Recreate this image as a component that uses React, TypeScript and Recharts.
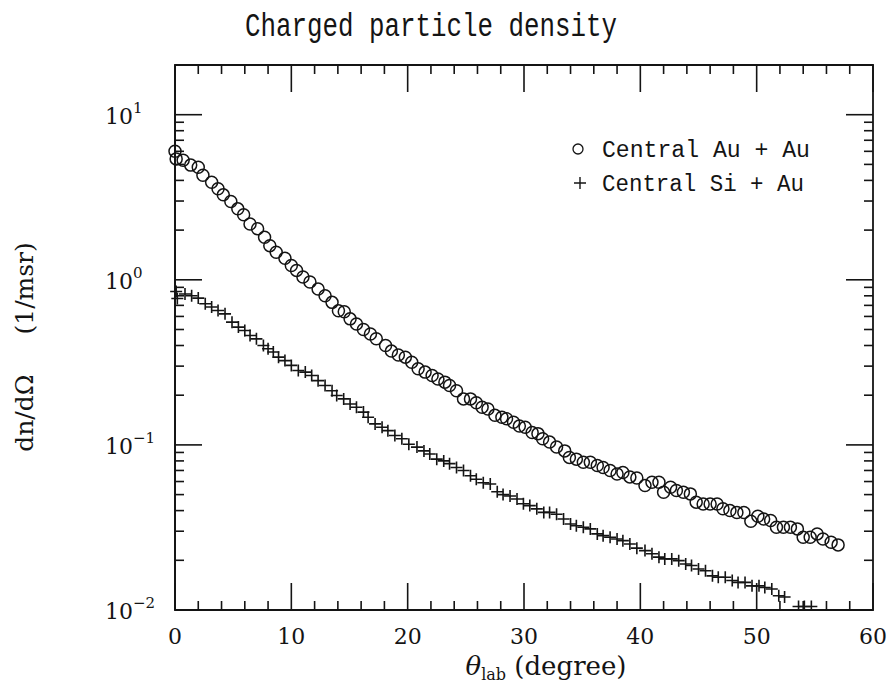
import React from 'react';
import { ReferenceArea, Label, Scatter, ScatterChart, XAxis, YAxis } from 'recharts';

// Central Au + Au (open circles): angle in degrees, density in 1/msr
const auTheta = [
  0, 0.1, 0.7, 1.35, 2.0, 2.4, 3.15, 3.7, 4.15, 4.8,
  5.4, 5.9, 6.45, 7.1, 7.7, 8.15, 8.7, 9.45, 10.0, 10.45,
  11.0, 11.6, 12.3, 12.9, 13.5, 14.05, 14.55, 15.05, 15.6, 16.2,
  16.8, 17.3, 18.1, 18.6, 19.2, 19.8, 20.35, 20.9, 21.5, 22.1,
  22.6, 23.2, 23.6, 24.2, 24.8, 25.4, 25.9, 26.4, 26.9, 27.5,
  28.1, 28.5, 29.1, 29.6, 30.1, 30.7, 31.2, 31.6, 32.2, 32.8,
  33.5, 33.9, 34.5, 35.1, 35.7, 36.3, 36.8, 37.4, 38.0, 38.5,
  39.1, 39.7, 40.4, 41.0, 41.6, 42.0, 42.6, 43.1, 43.7, 44.3,
  44.8, 45.4, 46.0, 46.6, 47.1, 47.7, 48.3, 48.9, 49.5, 50.1,
  50.6, 51.2, 51.7, 52.3, 52.9, 53.5, 54.0, 54.6, 55.2, 55.7,
  56.4, 57.0,
];
const auDensity = [
  6.0, 5.4, 5.3, 4.95, 4.8, 4.3, 3.9, 3.56, 3.27, 2.98,
  2.69, 2.48, 2.18, 2.04, 1.81, 1.61, 1.47, 1.35, 1.22, 1.14,
  1.04, 0.97, 0.88, 0.8, 0.73, 0.65, 0.64, 0.58, 0.54, 0.5,
  0.47, 0.44, 0.4, 0.37, 0.35, 0.34, 0.317, 0.289, 0.276, 0.263,
  0.251, 0.24, 0.229, 0.213, 0.19, 0.19, 0.18, 0.169, 0.165, 0.151,
  0.147, 0.144, 0.137, 0.13, 0.128, 0.119, 0.117, 0.109, 0.104, 0.097,
  0.092, 0.084, 0.082, 0.0785, 0.0785, 0.075, 0.073, 0.07, 0.0667, 0.068,
  0.064, 0.063, 0.0567, 0.0594, 0.0594, 0.0517, 0.0554, 0.0529, 0.0517, 0.0505,
  0.045, 0.0439, 0.0439, 0.0439, 0.041, 0.04, 0.039, 0.039, 0.0345, 0.037,
  0.0356, 0.0348, 0.0317, 0.0317, 0.0317, 0.031, 0.0276, 0.0276, 0.0289, 0.0269,
  0.0257, 0.0248,
];

// Central Si + Au (crosses)
const siTheta = [
  0.1, 0.2, 0.86, 1.43, 2.0, 2.6, 3.15, 3.7, 4.3, 4.9,
  5.45, 6.0, 6.45, 7.0, 7.6, 8.0, 8.45, 8.9, 9.45, 10.0,
  10.6, 11.2, 11.75, 12.3, 12.9, 13.5, 13.9, 14.5, 15.05, 15.6,
  16.2, 16.6, 17.2, 17.8, 18.3, 18.9, 19.5, 20.1, 20.8, 21.4,
  21.9, 22.5, 23.1, 23.6, 24.2, 24.8, 25.4, 25.9, 26.5, 27.1,
  27.7, 28.2, 28.8, 29.4, 29.95, 30.5, 31.1, 31.7, 32.2, 32.8,
  33.4, 34.0, 34.5, 35.1, 35.7, 36.3, 36.8, 37.4, 38.0, 38.5,
  39.1, 39.7, 40.4, 41.0, 41.6, 42.1, 42.7, 43.3, 43.9, 44.4,
  45.0, 45.6, 46.2, 46.7, 47.3, 47.9, 48.4, 49.0, 49.6, 50.2,
  50.7, 51.3, 51.9, 52.4, 53.6, 54.1, 54.7,
];
const siDensity = [
  0.85, 0.77, 0.82, 0.8, 0.775, 0.716, 0.684, 0.652, 0.622, 0.554,
  0.517, 0.493, 0.46, 0.439, 0.4, 0.382, 0.365, 0.34, 0.324, 0.303,
  0.282, 0.276, 0.263, 0.245, 0.229, 0.213, 0.199, 0.19, 0.177, 0.169,
  0.158, 0.147, 0.134, 0.128, 0.122, 0.114, 0.109, 0.101, 0.097, 0.092,
  0.088, 0.082, 0.08, 0.077, 0.073, 0.07, 0.065, 0.062, 0.059, 0.058,
  0.052, 0.05, 0.049, 0.047, 0.044, 0.0429, 0.041, 0.039, 0.039, 0.038,
  0.0356, 0.0332, 0.0324, 0.0317, 0.031, 0.0289, 0.0282, 0.0276, 0.0269, 0.0263,
  0.0251, 0.0237, 0.0229, 0.0219, 0.0209, 0.0204, 0.0204, 0.0199, 0.019, 0.0186,
  0.0177, 0.0173, 0.0161, 0.0158, 0.0158, 0.0151, 0.0147, 0.0147, 0.014, 0.014,
  0.0137, 0.0134, 0.0122, 0.012, 0.0105, 0.0105, 0.0105,
];

const xTicks = [0, 2, 4, 6, 8, 10, 12, 14, 16, 18, 20, 22, 24, 26, 28, 30, 32, 34, 36, 38, 40, 42, 44, 46, 48, 50, 52, 54, 56, 58, 60];
const yTicks = [
  0.01, 0.02, 0.03, 0.04, 0.05, 0.06, 0.07, 0.08, 0.09,
  0.1, 0.2, 0.3, 0.4, 0.5, 0.6, 0.7, 0.8, 0.9,
  1, 2, 3, 4, 5, 6, 7, 8, 9,
  10,
];

const W = 889;
const H = 685;
const PLOT_W = 698;
const PLOT_H = 545;
const INK = '#141414';
const serif = '"DejaVu Serif", "Liberation Serif", serif';
const mono = '"Liberation Mono", "DejaVu Sans Mono", monospace';

const isDecade = (v: number) => {
  const l = Math.log10(v);
  return Math.abs(l - Math.round(l)) < 1e-6;
};

function YTick(props: any) {
  const { x, y, payload } = props;
  const v = payload.value;
  const major = isDecade(v);
  const len = major ? 27 : 9;
  const exp = Math.round(Math.log10(v));
  return (
    <g>
      <line x1={x} y1={y} x2={x + len} y2={y} stroke={INK} strokeWidth={1.6} />
      <line x1={x + PLOT_W} y1={y} x2={x + PLOT_W - len} y2={y} stroke={INK} strokeWidth={1.6} />
      {major && (
        <text x={x - 70} y={y + 9} fontFamily={serif} fontSize={22} fill={INK}>
          10
          <tspan dy={-11} fontSize={15}>{exp < 0 ? `\u2212${-exp}` : `${exp}`}</tspan>
        </text>
      )}
    </g>
  );
}

function XTick(props: any) {
  const { x, y, payload } = props;
  const v = payload.value;
  const major = v % 10 === 0;
  const len = major ? 27 : 9;
  return (
    <g>
      <line x1={x} y1={y} x2={x} y2={y - len} stroke={INK} strokeWidth={1.6} />
      <line x1={x} y1={y - PLOT_H} x2={x} y2={y - PLOT_H + len} stroke={INK} strokeWidth={1.6} />
      {major && (
        <text x={x} y={y + 34} textAnchor="middle" fontFamily={serif} fontSize={22} fill={INK}>
          {v}
        </text>
      )}
    </g>
  );
}

const Ring = (p: any) => (
  <circle cx={p.cx} cy={p.cy} r={6} fill="none" stroke={INK} strokeWidth={1.5} />
);

const Plus = (p: any) => (
  <path d={`M${p.cx - 6},${p.cy}h12M${p.cx},${p.cy - 6}v12`} stroke={INK} strokeWidth={1.6} fill="none" />
);

export default function App() {
  const auData = auTheta.map((t, i) => ({ theta: t, density: auDensity[i] }));
  const siData = siTheta.map((t, i) => ({ theta: t, density: siDensity[i] }));

  return (
    <div style={{ position: 'absolute', left: 0, top: 0, width: W, height: H, background: '#fff' }}>
      <ScatterChart width={W} height={H} margin={{ top: 65, right: 16, bottom: 15, left: 15 }}>
        <XAxis
          dataKey="theta"
          type="number"
          domain={[0, 60]}
          ticks={xTicks}
          interval={0}
          tick={<XTick />}
          tickSize={0}
          tickMargin={0}
          tickLine={false}
          axisLine={{ stroke: INK, strokeWidth: 1.8 }}
          height={60}
        >
          <Label
            content={() => (
              <text x={546} y={675} textAnchor="middle" fontFamily={serif} fontSize={26} fill={INK}>
                <tspan fontStyle="italic">θ</tspan>
                <tspan dy={5} fontSize={16}>lab</tspan>
                <tspan dy={-5}> (degree)</tspan>
              </text>
            )}
          />
        </XAxis>
        <YAxis
          dataKey="density"
          type="number"
          scale="log"
          domain={[0.01, 20]}
          allowDataOverflow
          ticks={yTicks}
          interval={0}
          tick={<YTick />}
          tickSize={0}
          tickMargin={0}
          tickLine={false}
          axisLine={{ stroke: INK, strokeWidth: 1.8 }}
          width={160}
        >
          <Label
            content={() => (
              <text
                x={0}
                y={0}
                transform="translate(33,347) rotate(-90)"
                textAnchor="middle"
                fontFamily={serif}
                fontSize={25}
                fill={INK}
              >
                dn/dΩ
                <tspan dx={40}>(1/msr)</tspan>
              </text>
            )}
          />
        </YAxis>
        <ReferenceArea x1={0} x2={60} y1={0.01} y2={20} fill="none" stroke={INK} strokeWidth={1.8} fillOpacity={0} />
        <Scatter name="Central Au + Au" data={auData} shape={Ring} isAnimationActive={false} />
        <Scatter name="Central Si + Au" data={siData} shape={Plus} isAnimationActive={false} />
      </ScatterChart>
      <svg width={W} height={H} style={{ position: 'absolute', left: 0, top: 0, pointerEvents: 'none' }}>
        <text x={431} y={36} textAnchor="middle" fontFamily={mono} fontSize={33} fill={INK} textLength={372} lengthAdjust="spacingAndGlyphs">
          Charged particle density
        </text>
        <circle cx={578} cy={149} r={5} fill="none" stroke={INK} strokeWidth={1.3} />
        <text x={602} y={157} fontFamily={mono} fontSize={23} fill={INK} textLength={208} lengthAdjust="spacingAndGlyphs">
          Central Au + Au
        </text>
        <path d="M574,183h12M580,177v12" stroke={INK} strokeWidth={1.4} />
        <text x={602} y={191} fontFamily={mono} fontSize={23} fill={INK} textLength={202} lengthAdjust="spacingAndGlyphs">
          Central Si + Au
        </text>
      </svg>
    </div>
  );
}
